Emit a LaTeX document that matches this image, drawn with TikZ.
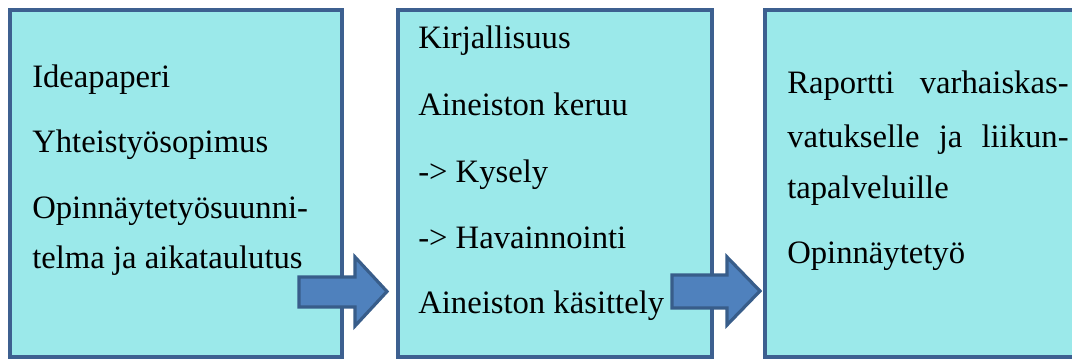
\documentclass[tikz,border=0pt]{standalone}
\usepackage{fontspec}
\setmainfont{Liberation Serif}
\definecolor{boxfill}{RGB}{155,233,234}
\definecolor{boxline}{RGB}{61,96,144}
\definecolor{arrowfill}{RGB}{79,129,189}
\definecolor{arrowline}{RGB}{56,93,138}
\tikzset{
  stagebox/.style={draw=boxline, fill=boxfill, line width=3pt, rectangle, inner sep=0pt},
  txt/.style={anchor=base west, inner sep=0pt, font=\fontsize{24.5}{29}\selectfont},
  blockarrow/.style={draw=arrowline, fill=arrowfill, line width=2.4pt, line join=miter}
}
\begin{document}
\begin{tikzpicture}[x=0.75pt,y=-0.75pt]
\useasboundingbox (0,0) rectangle (1072,358);
\clip (0,0) rectangle (1072,358);
% boxes
\node[stagebox, minimum width=249pt, minimum height=260.25pt] (b1) at (176,183.5) {};
\node[stagebox, minimum width=235.5pt, minimum height=260.25pt] (b2) at (555,183.5) {};
\node[stagebox, minimum width=240pt, minimum height=260.25pt] (b3) at (925,183.5) {};
% block arrows
\draw[blockarrow] (299,277) -- (355,277) -- (355,257) -- (387,291.5) -- (355,326) -- (355,307) -- (299,307) -- cycle;
\draw[blockarrow] (672,275) -- (727,275) -- (727,257) -- (760,291) -- (727,325) -- (727,308) -- (672,308) -- cycle;
% texts box 1
\node[txt] (t11) at (32,87) {Ideapaperi};
\node[txt] (t12) at (32,152) {Yhteistyösopimus};
\node[txt] (t13) at (32,218) {Opinnäytetyösuunni-};
\node[txt] (t14) at (32,268) {telma ja aikataulutus};
% texts box 2
\node[txt] (t21) at (418,48) {Kirjallisuus};
\node[txt] (t22) at (418,115) {Aineiston keruu};
\node[txt] (t23) at (418,182) {-> Kysely};
\node[txt] (t24) at (418,248) {-> Havainnointi};
\node[txt] (t25) at (418,313) {Aineiston käsittely};
% texts box 3
\node[txt] (t31) at (787,93) {\makebox[211pt][s]{Raportti varhaiskas-}};
\node[txt] (t32) at (787,147) {\makebox[211pt][s]{vatukselle ja liikun-}};
\node[txt] (t33) at (787,198) {tapalveluille};
\node[txt] (t34) at (787,263) {Opinnäytetyö};
\end{tikzpicture}
\end{document}
